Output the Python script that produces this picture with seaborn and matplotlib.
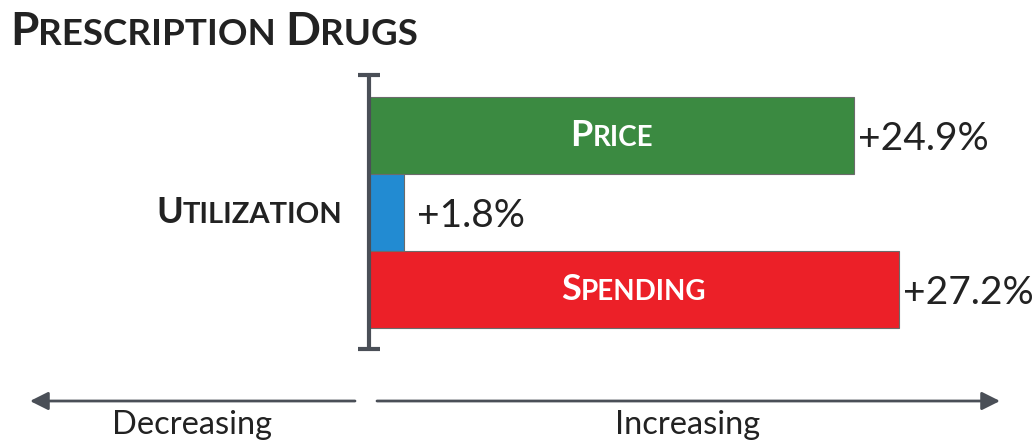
import numpy as np
import pandas as pd
import matplotlib
matplotlib.use("Agg")
import matplotlib.pyplot as plt
import seaborn as sns
from matplotlib.offsetbox import TextArea, HPacker, AnnotationBbox

# data
categories = ["Price", "Utilization", "Spending"]
values = [24.9, 1.8, 27.2]
value_labels = ["+24.9%", "+1.8%", "+27.2%"]
bar_colors = ["#3b8a41", "#228bd2", "#ec2028"]

sns.set_style("white")
plt.rcParams["font.family"] = ["Lato", "DejaVu Sans"]

AXIS_GREY = "#4a4f57"
TEXT_DARK = "#222222"


def small_caps(ax, text, xy, xycoords, big, small, color, weight="bold",
               align=(0.5, 0.5), offset=(0, 0)):
    # fake small caps: big first letter of each word, smaller caps for the rest
    children = []
    for i, w in enumerate(text.split(" ")):
        if i > 0:
            children.append(TextArea(" ", textprops=dict(fontsize=small, color=color,
                                                           fontweight=weight)))
        children.append(TextArea(w[0].upper(), textprops=dict(fontsize=big, color=color,
                                                               fontweight=weight)))
        children.append(TextArea(w[1:].upper(), textprops=dict(fontsize=small, color=color,
                                                                fontweight=weight)))
    box = HPacker(children=children, align="baseline", pad=0, sep=0)
    ab = AnnotationBbox(box, xy, xycoords=xycoords, xybox=offset,
                        boxcoords="offset points", box_alignment=align,
                        frameon=False, pad=0)
    ax.add_artist(ab)
    return ab


df = pd.DataFrame({"category": categories, "value": values})

fig = plt.figure(figsize=(10.35, 4.45), dpi=100)
ax = fig.add_axes([0, 0, 1, 1])

sns.barplot(data=df, x="value", y="category", hue="category", palette=bar_colors,
            orient="h", width=1.0, saturation=1, edgecolor="#6b6b6b", linewidth=0.8,
            legend=False, ax=ax)

ax.set_xlim(-18.94, 34.18)
ax.set_ylim(4.013, -1.766)
ax.axis("off")

# vertical zero axis with end caps
ax.vlines(0, -0.786, 2.77, color=AXIS_GREY, linewidth=3, zorder=5)
ax.hlines([-0.786, 2.77], -0.55, 0.55, color=AXIS_GREY, linewidth=3, zorder=5)

# value labels
offsets = [3, 9, 3]
for i, (v, lab) in enumerate(zip(values, value_labels)):
    ax.annotate(lab, xy=(v, i), xytext=(offsets[i], 0), textcoords="offset points",
                ha="left", va="center_baseline", fontsize=28, color=TEXT_DARK)

# in-bar labels
small_caps(ax, "Price", (values[0] / 2, 0), "data", 26, 20, "white")
small_caps(ax, "Spending", (values[2] / 2, 2), "data", 26, 20, "white")
# utilization label left of the axis
small_caps(ax, "Utilization", (0, 1), "data", 26, 21, TEXT_DARK,
           align=(1, 0.5), offset=(-19, 0))

# title
small_caps(ax, "Prescription Drugs", (10 / 1035, 1 - 11 / 445), "figure fraction",
           33, 26.5, TEXT_DARK, align=(0, 1))

# bottom direction arrows
arrow_y = 1 - 401 / 445
arrow_style = dict(arrowstyle="-|>,head_length=1.1,head_width=0.55",
                   color=AXIS_GREY, lw=2, shrinkA=0, shrinkB=0)
ax.annotate("", xy=(30 / 1035, arrow_y), xytext=(355 / 1035, arrow_y),
            xycoords="axes fraction", arrowprops=arrow_style)
ax.annotate("", xy=(1000 / 1035, arrow_y), xytext=(377 / 1035, arrow_y),
            xycoords="axes fraction", arrowprops=arrow_style)
ax.text(192 / 1035, 1 - 425 / 445, "Decreasing", transform=ax.transAxes,
        ha="center", va="center", fontsize=23.5, color=TEXT_DARK)
ax.text(688 / 1035, 1 - 425 / 445, "Increasing", transform=ax.transAxes,
        ha="center", va="center", fontsize=23.5, color=TEXT_DARK)

fig.savefig("out.png", dpi=100)
